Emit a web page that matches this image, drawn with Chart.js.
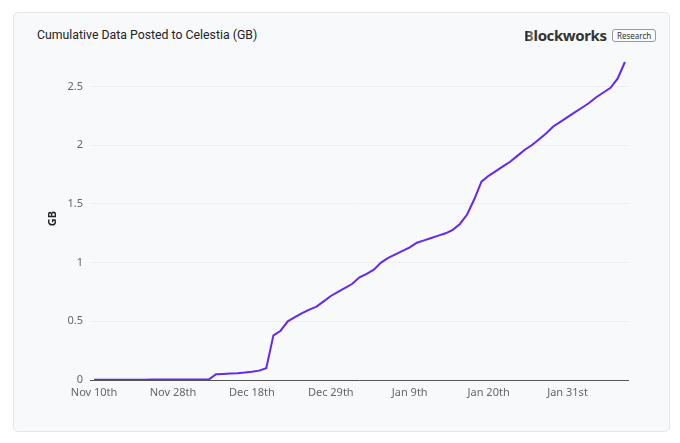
<!DOCTYPE html>
<html>
<head>
<meta charset="utf-8">
<script src="https://cdn.jsdelivr.net/npm/chart.js@4/dist/chart.umd.min.js"></script>
<style>
  html, body { margin: 0; padding: 0; background: #ffffff; }
  body { width: 680px; height: 443px; position: relative; overflow: hidden; font-family: "Noto Sans", sans-serif; }
  #card { position: absolute; left: 13px; top: 12px; width: 657px; height: 420px; background: #f8f9fb; border: 1px solid #e4e6ea; border-radius: 5px; box-sizing: border-box; }
  #title { position: absolute; left: 37px; top: 28px; font-family: Roboto, sans-serif; font-size: 12.3px; color: #222; }
  #logo { position: absolute; left: 524px; top: 25px; font-family: "Noto Sans", sans-serif; font-size: 15px; font-weight: 700; color: #333; letter-spacing: -0.4px; line-height: 20px; }
  #logo .b { background: linear-gradient(90deg, #111 0%, #555 60%, #999 100%); -webkit-background-clip: text; background-clip: text; color: transparent; }
  #pill { position: absolute; left: 612px; top: 29px; font-family: "Noto Sans", sans-serif; font-size: 8px; color: #333; border: 1px solid #9a9a9a; border-radius: 3px; padding: 0px 4px; line-height: 11px; background: #fafafa; }
  canvas { position: absolute; left: 0; top: 0; }
</style>
</head>
<body>
<div id="card"></div>
<div id="title">Cumulative Data Posted to Celestia (GB)</div>
<div id="logo"><span class="b">B</span>lockworks</div>
<div id="pill">Research</div>
<canvas id="c" width="680" height="443"></canvas>
<script>
const categories = [
  "Nov 10th","Nov 11th","Nov 13th","Nov 15th","Nov 17th","Nov 18th","Nov 20th","Nov 22nd","Nov 24th","Nov 25th","Nov 27th",
  "Nov 28th","Nov 30th","Dec 2nd","Dec 4th","Dec 5th","Dec 7th","Dec 9th","Dec 11th","Dec 13th","Dec 15th","Dec 17th",
  "Dec 18th","Dec 19th","Dec 20th","Dec 21st","Dec 22nd","Dec 23rd","Dec 24th","Dec 25th","Dec 26th","Dec 27th","Dec 28th",
  "Dec 29th","Dec 30th","Dec 31st","Jan 1st","Jan 2nd","Jan 3rd","Jan 4th","Jan 5th","Jan 6th","Jan 7th","Jan 8th",
  "Jan 9th","Jan 10th","Jan 11th","Jan 12th","Jan 13th","Jan 14th","Jan 15th","Jan 16th","Jan 17th","Jan 18th","Jan 19th",
  "Jan 20th","Jan 21st","Jan 22nd","Jan 23rd","Jan 24th","Jan 25th","Jan 26th","Jan 27th","Jan 28th","Jan 29th","Jan 30th",
  "Jan 31st","Feb 1st","Feb 2nd","Feb 3rd","Feb 4th","Feb 5th","Feb 6th","Feb 7th","Feb 8th"
];
const cumulativeGB = [
  0.002,0.002,0.002,0.002,0.002,0.002,0.002,0.002,0.004,0.004,0.004,
  0.004,0.004,0.004,0.004,0.004,0.004,0.05,0.052,0.055,0.058,0.063,
  0.07,0.08,0.10,0.38,0.42,0.50,0.535,0.57,0.60,0.625,0.67,
  0.716,0.75,0.785,0.82,0.875,0.905,0.94,1.0,1.04,1.07,1.10,
  1.13,1.17,1.19,1.21,1.23,1.25,1.28,1.33,1.41,1.54,1.69,
  1.74,1.78,1.82,1.86,1.91,1.96,2.00,2.05,2.10,2.16,2.20,
  2.24,2.28,2.32,2.36,2.41,2.45,2.49,2.57,2.71
];
const tickEvery = 11;
const yTickStep = 0.5;
const yMax = 2.75;

new Chart(document.getElementById('c'), {
  type: 'line',
  data: {
    labels: categories,
    datasets: [{
      label: 'Cumulative GB',
      data: cumulativeGB,
      borderColor: '#6228f5',
      borderWidth: 2,
      pointRadius: 0,
      tension: 0,
      fill: false
    }]
  },
  options: {
    responsive: false,
    animation: false,
    devicePixelRatio: 1,
    layout: { padding: { left: 0, right: 51.5, top: 57.3, bottom: 33 } },
    plugins: { legend: { display: false }, tooltip: { enabled: false } },
    scales: {
      x: {
        type: 'category',
        offset: true,
        afterFit: (s) => { s.height = 30; },
        grid: { display: false, drawTicks: false },
        border: { display: true, color: '#555555', width: 1 },
        ticks: {
          autoSkip: false,
          maxRotation: 0,
          padding: 6,
          color: '#666666',
          font: { family: 'Noto Sans', size: 11 },
          callback: function(v, i) { return i % tickEvery === 0 ? categories[i] : ''; }
        }
      },
      y: {
        min: 0,
        max: yMax,
        afterFit: (s) => { s.width = 90.5; },
        grid: { color: '#eceef2', lineWidth: 1, drawTicks: false },
        border: { display: false },
        title: { display: true, text: 'GB', color: '#222', font: { family: 'Noto Sans', size: 11, weight: 'bold' }, padding: { top: 46.4 } },
        ticks: {
          stepSize: yTickStep,
          includeBounds: false,
          padding: 7.5,
          color: '#666666',
          font: { family: 'Noto Sans', size: 11 },
          callback: function(v) { return String(Math.round(v * 10) / 10); }
        }
      }
    }
  }
});
</script>
</body>
</html>
